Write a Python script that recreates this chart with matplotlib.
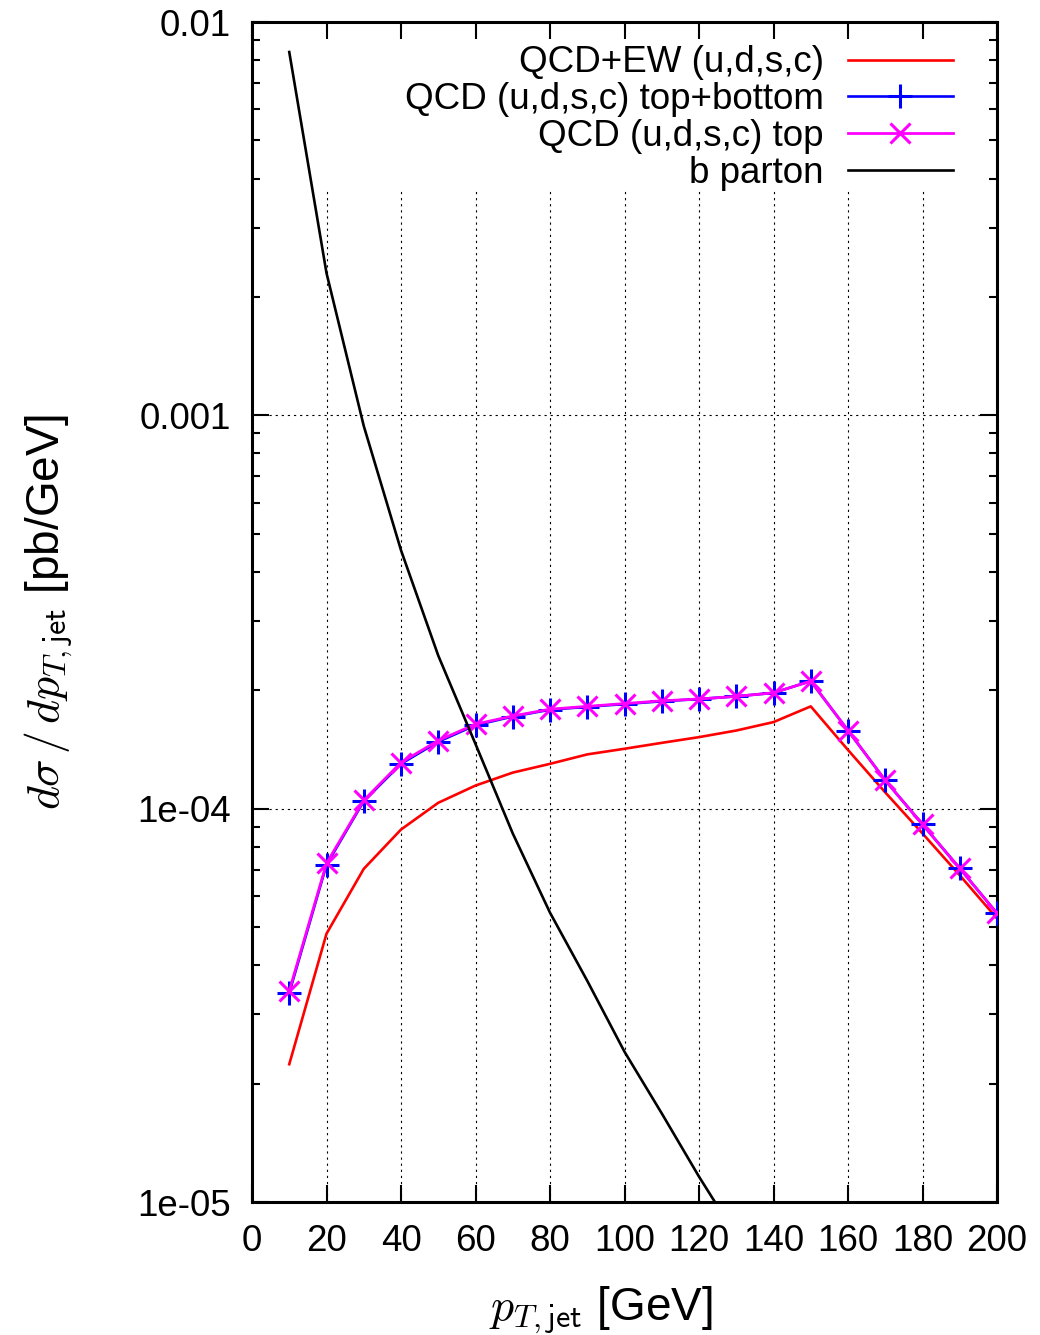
import numpy as np
import matplotlib
matplotlib.use('Agg')
import matplotlib.pyplot as plt
from matplotlib.ticker import FixedLocator, LogLocator, NullFormatter

plt.rcParams['font.family'] = ['Liberation Sans', 'DejaVu Sans']
plt.rcParams['mathtext.fontset'] = 'cm'

# dati
pt = np.arange(10, 201, 10)
qcd_ew = [2.24e-5, 4.81e-5, 7.03e-5, 8.85e-5, 1.035e-4, 1.145e-4, 1.235e-4, 1.30e-4, 1.374e-4, 1.42e-4,
          1.47e-4, 1.52e-4, 1.58e-4, 1.66e-4, 1.82e-4, 1.41e-4, 1.10e-4, 8.65e-5, 6.77e-5, 5.26e-5]
qcd_topbot = [3.40e-5, 7.20e-5, 1.045e-4, 1.30e-4, 1.48e-4, 1.63e-4, 1.715e-4, 1.785e-4, 1.815e-4, 1.845e-4,
              1.875e-4, 1.90e-4, 1.93e-4, 1.97e-4, 2.11e-4, 1.58e-4, 1.18e-4, 9.12e-5, 7.05e-5, 5.42e-5]
qcd_top = [3.44e-5, 7.26e-5, 1.05e-4, 1.31e-4, 1.49e-4, 1.64e-4, 1.72e-4, 1.79e-4, 1.82e-4, 1.85e-4,
           1.88e-4, 1.90e-4, 1.93e-4, 1.97e-4, 2.11e-4, 1.58e-4, 1.18e-4, 9.12e-5, 7.05e-5, 5.42e-5]
pt_b = np.arange(10, 131, 10)
b_parton = [8.39e-3, 2.30e-3, 9.4e-4, 4.54e-4, 2.45e-4, 1.46e-4, 8.65e-5, 5.44e-5, 3.65e-5, 2.41e-5,
            1.68e-5, 1.16e-5, 8.2e-6]

xticks = list(range(0, 201, 20))
yticks = [1e-5, 1e-4, 1e-3, 1e-2]
ytick_labels = ['1e-05', '1e-04', '0.001', '0.01']

fig = plt.figure(figsize=(10.4, 13.35), dpi=100)
ax = fig.add_axes([252/1040, 1 - 1202/1335, 745/1040, 1180/1335])
ax.set_yscale('log')
ax.set_xlim(0, 200)
ax.set_ylim(1e-5, 1e-2)

# griglia punteggiata
for xv in xticks[1:-1]:
    ax.axvline(xv, ymin=0, ymax=0.857, color='black', lw=0.8, ls=(0, (2, 3.5)), zorder=1)
for yv in [1e-4, 1e-3]:
    ax.axhline(yv, xmin=0.023, xmax=0.977, color='black', lw=0.8, ls=(0, (2, 3.5)), zorder=1)

ax.plot(pt, qcd_ew, color='#ff0000', lw=1.9, label='QCD+EW (u,d,s,c)', zorder=3)
ax.plot(pt, qcd_topbot, color='#0000ff', lw=1.9, marker='+', ms=17, mew=2.2,
        label='QCD (u,d,s,c) top+bottom', zorder=4)
ax.plot(pt, qcd_top, color='#ff00ff', lw=2.0, marker='x', ms=14, mew=2.2,
        label='QCD (u,d,s,c) top', zorder=5)
ax.plot(pt_b, b_parton, color='black', lw=1.9, label='b parton', zorder=6)

ax.xaxis.set_major_locator(FixedLocator(xticks))
ax.set_xticklabels([str(v) for v in xticks])
ax.yaxis.set_major_locator(FixedLocator(yticks))
ax.set_yticklabels(ytick_labels)
ax.yaxis.set_minor_locator(LogLocator(base=10, subs=np.arange(2, 10), numticks=20))
ax.yaxis.set_minor_formatter(NullFormatter())

ax.tick_params(which='both', direction='in', top=True, right=True, labelsize=26.5)
ax.tick_params(which='major', length=12, width=1.5)
ax.tick_params(which='minor', length=6, width=1.5)
ax.tick_params(axis='x', pad=16)
ax.tick_params(axis='y', pad=15)
for s in ax.spines.values():
    s.set_linewidth(2.2)

ax.set_xlabel(r'$p_{T,\mathsf{jet}}$ [GeV]', fontsize=33)
ax.xaxis.set_label_coords(0.468, -0.07)
ax.set_ylabel(r'$d\sigma\,/\,dp_{T,\mathsf{jet}}$ [pb/GeV]', fontsize=33)
ax.yaxis.set_label_coords(-0.237, 0.5)

leg = ax.legend(loc='upper right', bbox_to_anchor=(0.9503, 0.9864), frameon=False,
                markerfirst=False, fontsize=26.5, handlelength=2.85, handletextpad=0.65,
                labelspacing=0.05, borderaxespad=0.0, borderpad=0.2)

fig.savefig('out.png', dpi=100)
